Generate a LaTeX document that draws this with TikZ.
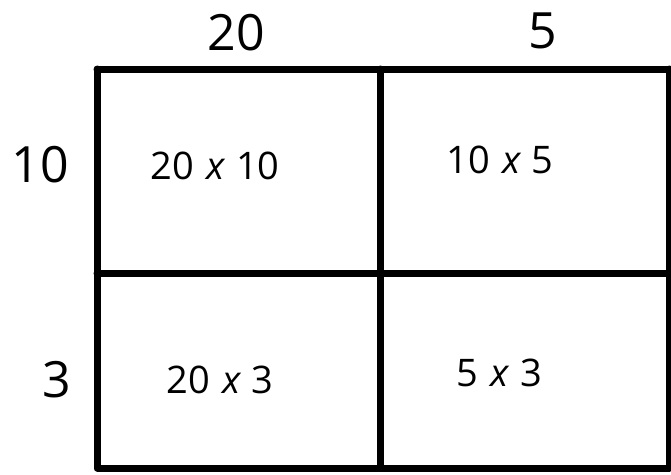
\documentclass[tikz,border=0pt]{standalone}
\usepackage{fontspec}
\setmainfont{Open Sans}
\newcommand{\mytimes}{\hspace{0.32em}\textit{x}\hspace{0.28em}}
\begin{document}
\begin{tikzpicture}[x=1pt,y=-1pt,
  gridline/.style={line width=7pt,line cap=round,line join=round},
  biglabel/.style={font=\fontsize{50}{56}\selectfont,inner sep=0pt},
  celltext/.style={font=\fontsize{38}{44}\selectfont,inner sep=0pt}]
\useasboundingbox[fill=white] (0,0) rectangle (671,474);
\coordinate (tl) at (97,69);
\coordinate (tm) at (380,69);
\coordinate (tr) at (669,69);
\coordinate (ml) at (97,273);
\coordinate (mr) at (669,273);
\coordinate (bl) at (97,468);
\coordinate (bm) at (380,468);
\coordinate (br) at (669,468);
\draw[gridline] (tl) -- (tr);
\draw[gridline] (tl) -- (bl) -- (br) -- (tr);
\draw[gridline] (tm) -- (bm);
\draw[gridline] (ml) -- (mr);
\node[biglabel] (c20) at (236,33) {20};
\node[biglabel] (c5) at (543,31) {5};
\node[biglabel] (r10) at (40,165) {10};
\node[biglabel] (r3) at (57,380) {3};
\node[celltext] (a) at (215,166) {20\mytimes10};
\node[celltext] (b) at (500,160) {10\mytimes5};
\node[celltext] (c) at (220,380) {20\mytimes3};
\node[celltext] (d) at (499,373) {5\mytimes3};
\end{tikzpicture}
\end{document}
